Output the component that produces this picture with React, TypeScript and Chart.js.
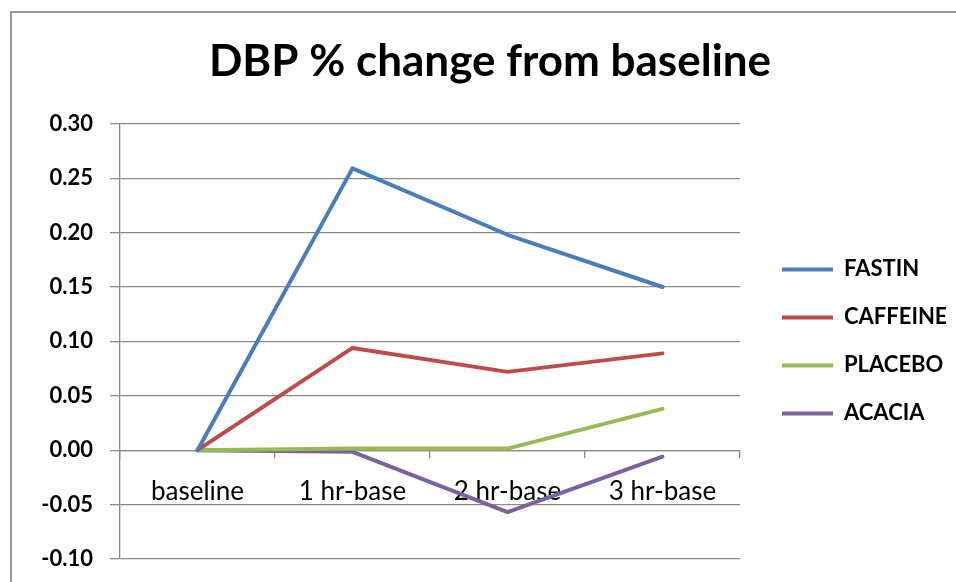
import React, { useEffect, useRef } from "react";
import { Chart, registerables } from "chart.js";

Chart.register(...registerables);

const categories = ["baseline", "1 hr-base", "2 hr-base", "3 hr-base"];
const seriesNames = ["FASTIN", "CAFFEINE", "PLACEBO", "ACACIA"];
const fastin = [0, 0.259, 0.198, 0.15];
const caffeine = [0, 0.094, 0.072, 0.089];
const placebo = [0, 0.0015, 0.0015, 0.038];
const acacia = [0, -0.0015, -0.057, -0.006];
const seriesColors = ["#4A7EBB", "#BE4B48", "#98B954", "#7D60A0"];
const yMin = -0.1;
const yMax = 0.3;
const yStep = 0.05;

const FONT = "Lato, 'Open Sans', sans-serif";
const GRID = "#8a8a8a";

export default function App() {
  const ref = useRef<HTMLCanvasElement | null>(null);

  useEffect(() => {
    if (!ref.current) return;
    const values = [fastin, caffeine, placebo, acacia];
    const chart = new Chart(ref.current, {
      type: "line",
      data: {
        labels: categories,
        datasets: seriesNames.map((name, i) => ({
          label: name,
          data: values[i],
          borderColor: seriesColors[i],
          backgroundColor: seriesColors[i],
          borderWidth: 4,
          pointRadius: 0,
          pointHoverRadius: 0,
          tension: 0,
          fill: false,
          borderJoinStyle: "round" as const,
          borderCapStyle: "round" as const,
        })),
      },
      options: {
        responsive: false,
        animation: false,
        layout: { padding: { left: 34, right: 10, top: 0, bottom: 23 } },
        plugins: {
          tooltip: { enabled: false },
          title: {
            display: true,
            text: "DBP % change from baseline",
            color: "#000",
            font: { family: FONT, size: 44, weight: "bold" },
            padding: { top: 35, bottom: 36 },
          },
          legend: {
            display: true,
            position: "right",
            fullSize: false,
            maxWidth: 190,
            labels: {
              usePointStyle: true,
              pointStyle: "line",
              pointStyleWidth: 51,
              boxWidth: 51,
              padding: 26,
              color: "#000",
              font: { family: FONT, size: 22, weight: "bold" },
            },
          },
        },
        scales: {
          x: {
            type: "category",
            position: { y: 0 } as any,
            offset: true,
            grid: {
              display: true,
              offset: true,
              drawOnChartArea: false,
              drawTicks: true,
              tickLength: 7,
              color: GRID,
              lineWidth: 1.3,
            },
            border: { display: true, color: GRID, width: 1.3 },
            ticks: {
              color: "#000",
              font: { family: FONT, size: 26 },
              padding: 19,
              maxRotation: 0,
              autoSkip: false,
            },
          },
          y: {
            type: "linear",
            position: "left",
            min: yMin,
            max: yMax,
            afterFit: (s: any) => {
              s.width = 86;
              s.paddingTop = 0;
              s.paddingBottom = 0;
            },
            grid: {
              color: GRID,
              lineWidth: 1.3,
              tickLength: 10,
              drawTicks: true,
            },
            border: { display: true, color: GRID, width: 1.3 },
            ticks: {
              stepSize: yStep,
              color: "#000",
              font: { family: FONT, size: 22, weight: "bold" },
              padding: 17,
              callback: (v: any) => Number(v).toFixed(2),
            },
          },
          pad: {
            type: "linear",
            position: "right",
            display: true,
            grid: { display: false },
            border: { display: false },
            ticks: { display: false },
            afterFit: (s: any) => {
              s.width = 16;
              s.paddingTop = 0;
              s.paddingBottom = 0;
            },
          },
        },
      },
    });
    return () => chart.destroy();
  }, []);

  return (
    <div
      style={{
        position: "absolute",
        left: 0,
        top: 0,
        width: 956,
        height: 582,
        overflow: "hidden",
        background: "#fff",
      }}
    >
      <div
        style={{
          position: "absolute",
          left: 10,
          top: 11,
          width: 1200,
          height: 1200,
          border: "2px solid #9a9a9a",
          boxSizing: "border-box",
        }}
      />
      <canvas
        ref={ref}
        width={956}
        height={582}
        style={{ position: "absolute", left: 0, top: 0, width: 956, height: 582 }}
      />
    </div>
  );
}
